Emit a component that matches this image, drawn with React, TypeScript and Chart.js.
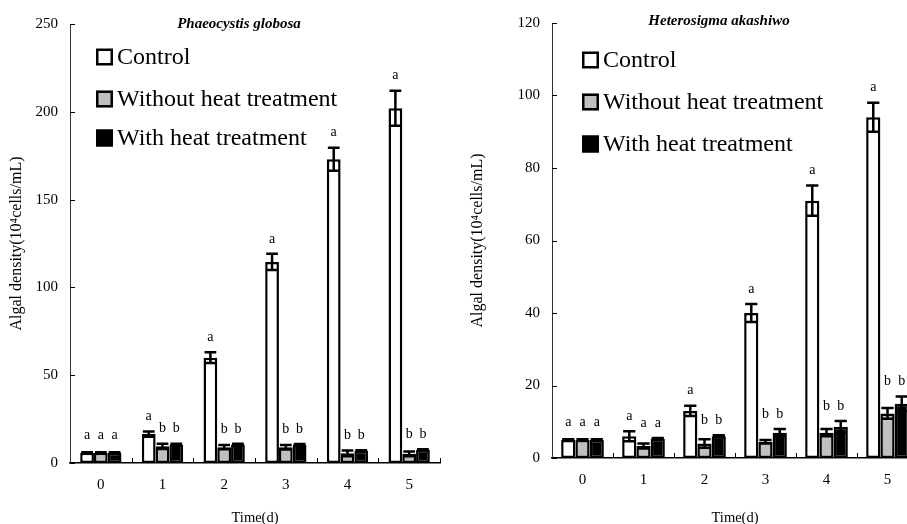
import React, { useEffect, useRef } from 'react';
import { Chart, registerables } from 'chart.js';

Chart.register(...registerables);

// ---------- data ----------
const days = ['0', '1', '2', '3', '4', '5'];
const seriesNames = ['Control', 'Without heat treatment', 'With heat treatment'];
const yTitle = 'Algal density(10⁴cells/mL)';
const xTitle = 'Time(d)';

// Phaeocystis globosa
const pgTitle = 'Phaeocystis globosa';
const pgControl = [5.8, 16.5, 60, 114.5, 173, 202];
const pgControlSE = [0.3, 1.5, 3, 4.6, 6.5, 10];
const pgWithout = [5.8, 9.5, 9, 9, 5.5, 5.2];
const pgWithoutSE = [0.3, 1.5, 1.2, 1.3, 1.6, 1.4];
const pgWith = [5.8, 10.5, 10.5, 10.5, 7, 7.5];
const pgWithSE = [0.3, 0.4, 0.4, 0.3, 0.3, 0.3];
const pgControlLetters = ['a', 'a', 'a', 'a', 'a', 'a'];
const pgWithoutLetters = ['a', 'b', 'b', 'b', 'b', 'b'];
const pgWithLetters = ['a', 'b', 'b', 'b', 'b', 'b'];
const pgYMax = 250;
const pgYStep = 50;

// Heterosigma akashiwo
const haTitle = 'Heterosigma akashiwo';
const haControl = [5, 6, 13, 40, 71, 94];
const haControlSE = [0.2, 1.4, 1.4, 2.5, 4.2, 4];
const haWithout = [5, 3.3, 4, 4.5, 7, 12.3];
const haWithoutSE = [0.2, 0.7, 1.2, 0.5, 1, 1.5];
const haWith = [5, 5.3, 6, 7, 8.6, 15];
const haWithSE = [0.2, 0.2, 0.3, 1, 1.6, 2];
const haControlLetters = ['a', 'a', 'a', 'a', 'a', 'a'];
const haWithoutLetters = ['a', 'a', 'b', 'b', 'b', 'b'];
const haWithLetters = ['a', 'a', 'b', 'b', 'b', 'b'];
const haYMax = 120;
const haYStep = 20;

// ---------- styles ----------
const FONT = '"Liberation Serif", "Times New Roman", serif';
const FILLS = ['#ffffff', '#c0c0c0', '#000000'];
const LINE_W = 2.5;

type Cfg = {
  title: string;
  values: number[][];
  ses: number[][];
  letters: string[][];
  yMax: number;
  yStep: number;
  canvasW: number;
  canvasH: number;
  padTop: number;
  padRight: number;
  yWidth: number;
  xHeight: number;
  yTitlePad: number;
  catPct: number;
  legendDx: number;
  legendDy: number[];
  titleDx: number;
  titleDy: number;
};

function annotPlugin(cfg: Cfg) {
  return {
    id: 'annot',
    afterDatasetsDraw(chart: any) {
      const ctx = chart.ctx;
      const ys = chart.scales.y;
      ctx.save();
      // error bars
      ctx.strokeStyle = '#000';
      ctx.lineWidth = LINE_W;
      const tops: number[][] = [];
      cfg.values.forEach((vals, di) => {
        const meta = chart.getDatasetMeta(di);
        tops[di] = [];
        meta.data.forEach((el: any, j: number) => {
          const v = vals[j];
          const se = cfg.ses[di][j];
          const yHi = ys.getPixelForValue(v + se);
          const yLo = ys.getPixelForValue(v - se);
          const x = el.x;
          const hw = el.width / 2;
          tops[di][j] = yHi;
          ctx.beginPath();
          ctx.moveTo(x, yLo);
          ctx.lineTo(x, yHi);
          ctx.moveTo(x - hw + 1, yHi);
          ctx.lineTo(x + hw - 1, yHi);
          ctx.moveTo(x - hw + 1, yLo);
          ctx.lineTo(x + hw - 1, yLo);
          ctx.stroke();
        });
      });
      // letters
      ctx.fillStyle = '#000';
      ctx.font = `14px ${FONT}`;
      ctx.textAlign = 'center';
      ctx.textBaseline = 'middle';
      days.forEach((_, j) => {
        const ctrlTop = tops[0][j];
        const trtTop = Math.min(tops[1][j], tops[2][j]);
        const allTop = Math.min(ctrlTop, trtTop);
        cfg.letters.forEach((arr, di) => {
          const el = chart.getDatasetMeta(di).data[j];
          let y;
          if (j === 0) y = allTop - 17;
          else y = (di === 0 ? ctrlTop : trtTop) - 15;
          ctx.fillText(arr[j], el.x, y);
        });
      });
      ctx.restore();
    },
    afterDraw(chart: any) {
      const ctx = chart.ctx;
      const area = chart.chartArea;
      const ys = chart.scales.y;
      ctx.save();
      // inner tick marks
      ctx.strokeStyle = '#000';
      ctx.lineWidth = 1;
      ctx.beginPath();
      ys.ticks.forEach((t: any) => {
        const y = Math.round(ys.getPixelForValue(t.value)) + 0.5;
        ctx.moveTo(area.left, y);
        ctx.lineTo(area.left + 5, y);
      });
      const n = days.length;
      for (let i = 1; i <= n; i++) {
        const x = Math.round(area.left + (i * (area.right - area.left)) / n) + 0.5;
        ctx.moveTo(x, area.bottom);
        ctx.lineTo(x, area.bottom - 5);
      }
      ctx.stroke();
      // title
      ctx.fillStyle = '#000';
      ctx.font = `italic bold 15px ${FONT}`;
      ctx.textAlign = 'center';
      ctx.textBaseline = 'middle';
      ctx.fillText(cfg.title, (area.left + area.right) / 2 + cfg.titleDx, area.top + cfg.titleDy);
      // legend
      ctx.font = `24px ${FONT}`;
      ctx.textAlign = 'left';
      seriesNames.forEach((name, i) => {
        const cy = area.top + cfg.legendDy[i];
        const bx = area.left + cfg.legendDx;
        ctx.fillStyle = FILLS[i];
        ctx.fillRect(bx, cy - 8.5, 17, 17);
        ctx.strokeStyle = '#000';
        ctx.lineWidth = 2.5;
        ctx.strokeRect(bx + 1.25, cy - 7.25, 14.5, 14.5);
        ctx.fillStyle = '#000';
        ctx.fillText(name, bx + 21, cy + 1);
      });
      ctx.restore();
    },
  };
}

function makeChart(canvas: HTMLCanvasElement, cfg: Cfg) {
  const font = { family: FONT, size: 15 };
  const datasets = cfg.values.map((vals, i) => ({
    label: seriesNames[i],
    data: vals,
    backgroundColor: FILLS[i],
    borderColor: '#000',
    borderWidth: LINE_W,
    borderSkipped: false,
  }));
  return new Chart(canvas, {
    type: 'bar',
    data: { labels: days, datasets },
    options: {
      animation: false,
      responsive: false,
      devicePixelRatio: 1,
      layout: { padding: { top: cfg.padTop, right: cfg.padRight, left: 0, bottom: 0 } },
      plugins: {
        legend: { display: false },
        tooltip: { enabled: false },
        title: { display: false },
      },
      datasets: { bar: { categoryPercentage: cfg.catPct, barPercentage: 1 } },
      scales: {
        x: {
          grid: { display: false, drawTicks: false },
          border: { display: true, color: '#000', width: 1.5 },
          ticks: { font, color: '#000', padding: 13 },
          title: {
            display: true,
            text: xTitle,
            font: { family: FONT, size: 14.5 },
            color: '#000',
            padding: { top: 0, bottom: 13 },
          },
          afterFit: (s: any) => {
            s.height = cfg.xHeight;
          },
        },
        y: {
          min: 0,
          max: cfg.yMax,
          grid: { display: false, drawTicks: false },
          border: { display: true, color: '#333', width: 1 },
          ticks: { font, color: '#000', padding: 12, stepSize: cfg.yStep },
          title: {
            display: true,
            text: yTitle,
            font: { family: FONT, size: 16 },
            color: '#000',
            padding: { top: cfg.yTitlePad, bottom: 0 },
          },
          afterFit: (s: any) => {
            s.width = cfg.yWidth;
          },
        },
      },
    } as any,
    plugins: [annotPlugin(cfg)],
  });
}

const leftCfg: Cfg = {
  title: pgTitle,
  values: [pgControl, pgWithout, pgWith],
  ses: [pgControlSE, pgWithoutSE, pgWithSE],
  letters: [pgControlLetters, pgWithoutLetters, pgWithLetters],
  yMax: pgYMax,
  yStep: pgYStep,
  canvasW: 455,
  canvasH: 540,
  padTop: 24,
  padRight: 15,
  yWidth: 70,
  xHeight: 77,
  yTitlePad: 7,
  catPct: 0.67,
  legendDx: 26,
  legendDy: [33, 75, 114],
  titleDx: -16,
  titleDy: 0,
};

const rightCfg: Cfg = {
  title: haTitle,
  values: [haControl, haWithout, haWith],
  ses: [haControlSE, haWithoutSE, haWithSE],
  letters: [haControlLetters, haWithoutLetters, haWithLetters],
  yMax: haYMax,
  yStep: haYStep,
  canvasW: 475,
  canvasH: 540,
  padTop: 23,
  padRight: 12,
  yWidth: 97,
  xHeight: 82,
  yTitlePad: 13,
  catPct: 0.7,
  legendDx: 30,
  legendDy: [37, 79, 121],
  titleDx: -16,
  titleDy: -2,
};

function Panel({ cfg, left }: { cfg: Cfg; left: number }) {
  const ref = useRef<HTMLCanvasElement>(null);
  useEffect(() => {
    if (!ref.current) return;
    const c = makeChart(ref.current, cfg);
    return () => c.destroy();
  }, [cfg]);
  return (
    <canvas
      ref={ref}
      width={cfg.canvasW}
      height={cfg.canvasH}
      style={{ position: 'absolute', left, top: 0, width: cfg.canvasW, height: cfg.canvasH }}
    />
  );
}

export default function App() {
  return (
    <div
      style={{
        position: 'fixed',
        left: 0,
        top: 0,
        width: 907,
        height: 524,
        overflow: 'hidden',
        background: '#fff',
      }}
    >
      <Panel cfg={leftCfg} left={0} />
      <Panel cfg={rightCfg} left={455} />
    </div>
  );
}
